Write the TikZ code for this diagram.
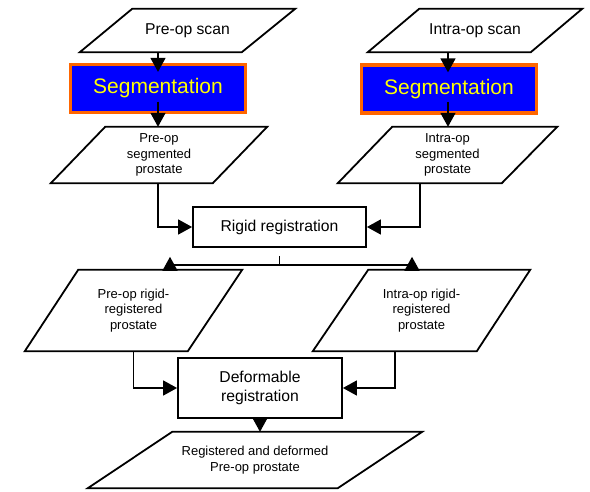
\documentclass[tikz,border=0pt]{standalone}
\usepackage{fontspec}
\setmainfont{Liberation Sans}
\usetikzlibrary{arrows.meta}
\definecolor{segorange}{HTML}{FF6600}
\definecolor{segblue}{HTML}{0000FF}
\definecolor{segyellow}{HTML}{FFFF00}
\begin{document}
\begin{tikzpicture}[x=1pt,y=-1pt,
  shp/.style={line width=1.8pt, line join=miter},
  con/.style={line width=1.5pt},
  arr/.style={con, -{Triangle[length=14pt,width=15pt]}},
  pbox/.style={inner sep=0pt, align=center},
  big/.style={font=\fontsize{15.7}{19.3}\selectfont},
  small/.style={font=\fontsize{13}{15.6}\selectfont},
  segbox/.style={draw=segorange, fill=segblue, line width=3.3pt, text=segyellow,
    inner sep=0pt, font=\fontsize{21}{25}\selectfont},
  rbox/.style={draw, line width=1.8pt, inner sep=0pt, align=center, big}
]
\useasboundingbox (0,0) rectangle (590,491);

% top scans
\node[pbox, big, minimum width=215pt, minimum height=43pt] (ps) at (187.5,30.5) {Pre-op scan};
\draw[shp] (ps.south west) -- ++(162,0) -- (ps.north east) -- ++(-163,0) -- cycle;
\node[pbox, big, minimum width=214pt, minimum height=43pt] (is) at (475,30.5) {Intra-op scan};
\draw[shp] (is.south west) -- ++(163,0) -- (is.north east) -- ++(-163,0) -- cycle;

% segmentation
\node[segbox, minimum width=175pt, minimum height=48pt] (seg1) at (158,88.5) {Segmentation};
\node[segbox, minimum width=175pt, minimum height=48pt] (seg2) at (449,89) {Segmentation};

% segmented
\node[pbox, small, minimum width=216pt, minimum height=56pt] (pss) at (159,155) {Pre-op\\segmented\\prostate};
\draw[shp] (pss.south west) -- ++(162,0) -- (pss.north east) -- ++(-162,0) -- cycle;
\node[pbox, small, minimum width=219pt, minimum height=56pt] (iss) at (447.5,155) {Intra-op\\segmented\\prostate};
\draw[shp] (iss.south west) -- ++(164,0) -- (iss.north east) -- ++(-165,0) -- cycle;

% rigid registration
\node[rbox, minimum width=173pt, minimum height=40pt] (rr) at (279.5,227) {Rigid registration};

% rigid registered
\node[pbox, small, minimum width=217pt, minimum height=81pt] (prr) at (133.5,310.5) {Pre-op rigid-\\registered\\prostate};
\draw[shp] (prr.south west) -- ++(163,0) -- (prr.north east) -- ++(-164,0) -- cycle;
\node[pbox, small, minimum width=217pt, minimum height=81pt] (irr) at (421.5,310.5) {Intra-op rigid-\\registered\\prostate};
\draw[shp] (irr.south west) -- ++(164,0) -- (irr.north east) -- ++(-162,0) -- cycle;

% deformable
\node[rbox, minimum width=164pt, minimum height=60pt] (dr) at (260,388) {Deformable\\registration};

% final
\node[pbox, small, minimum width=334pt, minimum height=56pt] (fin) at (255,460) {Registered and deformed\\Pre-op prostate};
\draw[shp] (fin.south west) -- ++(250,0) -- (fin.north east) -- ++(-250,0) -- cycle;

% connectors
\draw[arr] (seg1.north |- ps.south) -- ([yshift=-9pt]seg1.north);
\draw[arr] ([yshift=-13pt]seg1.center) -- (seg1.center |- pss.north);
\draw[arr] ([xshift=-1pt]seg2.north |- is.south) -- ([xshift=-1pt,yshift=-9pt]seg2.north);
\draw[arr] ([xshift=-1pt,yshift=-13pt]seg2.center) -- ([xshift=-1pt]seg2.center |- iss.north);

\draw[arr] ([xshift=-1pt]pss.south) |- (rr.west);
\draw[arr] ([xshift=-27.5pt]iss.south) |- (rr.east);

\coordinate (split) at ([yshift=-17pt]rr.south);
\coordinate (lt) at ([xshift=36.5pt]prr.north);
\coordinate (rt) at ([xshift=-9.5pt]irr.north);
\draw[con] ([yshift=-8pt]rr.south) -- (split);
\draw[con] (split -| lt) -- (split -| rt);
\draw[arr] (lt) -- ++(0,-13);
\draw[arr] (rt) -- ++(0,-13);

\draw[arr] (prr.south) |- (dr.west);
\draw[arr] ([xshift=-26.5pt]irr.south) |- (dr.east);
\draw[arr] (dr.south) -- (dr.south |- fin.north);
\end{tikzpicture}
\end{document}
